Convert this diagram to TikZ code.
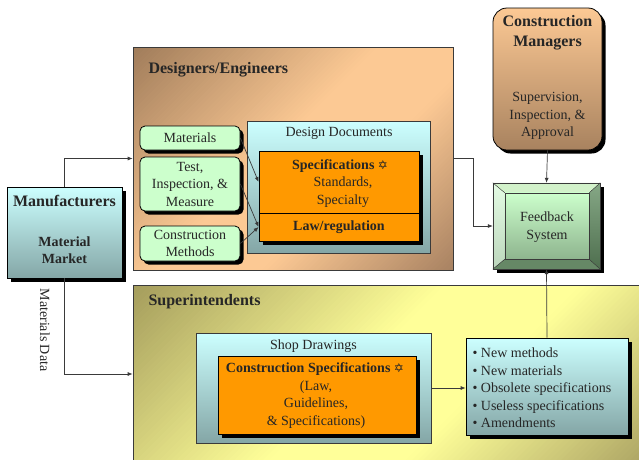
\documentclass[tikz,border=0pt]{standalone}
\usepackage{fontspec}
\setmainfont{Liberation Serif}
\newfontfamily\symfont{DejaVu Sans}
\usetikzlibrary{shadows,arrows.meta}

\definecolor{txt}{HTML}{262626}
\definecolor{edge}{HTML}{3A3A3A}
\definecolor{peach}{HTML}{FCC994}
\definecolor{brownA}{HTML}{A07C5A}
\definecolor{brownB}{HTML}{A88262}
\definecolor{brownCM}{HTML}{A8825F}
\definecolor{oliveA}{HTML}{A49C5C}
\definecolor{lightyellow}{HTML}{FFFF99}
\definecolor{oliveB}{HTML}{ACA464}
\definecolor{cyanTop}{HTML}{CCFFFF}
\definecolor{tealBot}{HTML}{84A6A6}
\definecolor{mint}{HTML}{CCFFCC}
\definecolor{specorange}{HTML}{FF9900}
\definecolor{bevelTop}{HTML}{D2F2CA}
\definecolor{bevelLeftA}{HTML}{E4FCE4}
\definecolor{bevelLeftB}{HTML}{BCD6BC}
\definecolor{bevelRightA}{HTML}{86A886}
\definecolor{bevelRightB}{HTML}{4E6E4E}
\definecolor{bevelBottom}{HTML}{668866}
\definecolor{faceTop}{HTML}{CCFFCC}
\definecolor{faceBot}{HTML}{8EB48E}

% Diagonal wash inside a rectangle: #5 in the top-left corner, #6 across the
% middle, #7 in the bottom-right corner, built from thin strips along x+y=const.
\newcommand\diagwash[7]{%
  \begin{scope}
    \clip (#1,#2) rectangle (#3,#4);
    \pgfmathsetmacro{\washlo}{#1+#2}
    \pgfmathsetmacro{\washstep}{(#3+#4-#1-#2)/120}
    \foreach \k in {0,...,119} {
      \pgfmathsetmacro{\washt}{(\k+0.5)/120}
      \pgfmathsetmacro{\washa}{max(0,1-\washt/0.45)*100}
      \pgfmathsetmacro{\washb}{max(0,(\washt-0.65)/0.35)*100}
      \colorlet{washc}{#5!\washa!#6}
      \colorlet{washc}{#7!\washb!washc}
      \pgfmathsetmacro{\washsa}{\washlo+\k*\washstep}
      \pgfmathsetmacro{\washsb}{\washsa+\washstep+0.8}
      \fill[washc] (\washsa-#2+5,#2-5) -- (\washsb-#2+5,#2-5)
        -- (\washsb-#4-5,#4+5) -- (\washsa-#4-5,#4+5) -- cycle;
    }
  \end{scope}}

\begin{document}
\begin{tikzpicture}[x=1pt,y=-1pt,
  every node/.style={text=txt, font=\fontsize{14}{17.5}\selectfont},
  shadowed/.style={drop shadow={shadow xshift=3.5pt,shadow yshift=-3.5pt,fill=black,opacity=1}},
  region/.style={draw=edge, line width=0.7pt, inner sep=0pt},
  tealbox/.style={draw=edge, line width=0.7pt, inner sep=0pt, top color=cyanTop, bottom color=tealBot},
  greenbox/.style={draw=black, line width=0.8pt, fill=mint, rounded corners=5pt, shadowed,
    align=center, inner sep=0pt, minimum width=100pt},
  orangebox/.style={draw=black, line width=0.8pt, fill=specorange, shadowed, inner sep=0pt,
    minimum width=160pt},
  heading/.style={font=\bfseries\fontsize{16}{20}\selectfont},
  strong/.style={font=\bfseries\fontsize{14}{17.5}\selectfont},
  flow/.style={draw=edge, line width=0.7pt, -{Latex[length=5pt,width=4pt]}},
  bevel/.style={draw=edge, line width=0.4pt},
]
\useasboundingbox (0,0) rectangle (639,459);
\fill[white] (0,0) rectangle (639,459);

% ---------- the two large regions
\diagwash{133}{47}{453}{270}{brownA}{peach}{brownB}
\node[region, minimum width=320pt, minimum height=223pt] (de) at (293,158.5) {};
\node[heading, anchor=west] (delabel) at (145,70) {Designers/Engineers};

\diagwash{133}{285}{645}{463}{oliveA}{lightyellow}{oliveB}
\node[region, minimum width=512pt, minimum height=178pt] (si) at (389,374) {};
\node[heading, anchor=west] (silabel) at (145,302) {Superintendents};

% ---------- manufacturers
\node[tealbox, draw=black, shadowed, minimum width=115pt, minimum height=91pt] (mf) at (64.5,232.5) {};
\node[heading] (mftitle) at (64.5,201) {Manufacturers};
\node[strong, align=center] (mfmarket) at (64.5,250) {Material\\Market};
\node[rotate=-90] (mdata) at (45,330) {Materials Data};

% ---------- inputs to the design documents
\node[greenbox, minimum height=24pt] (mat) at (190,138) {Materials};
\node[greenbox, minimum height=54pt] (test) at (190,184) {Test,\\Inspection, \&\\Measure};
\node[greenbox, minimum height=35pt] (cmeth) at (190,243.5) {Construction\\Methods};

% ---------- design documents
\node[tealbox, minimum width=183pt, minimum height=132pt] (dd) at (338.5,187) {};
\node (ddlabel) at (339,133) {Design Documents};
\node[orangebox, minimum height=62pt] (spec) at (339,182) {};
\node[orangebox, minimum height=28pt] (law) at (339,227) {};
\node[strong] (spectitle) at (340,166) {Specifications {\symfont\mdseries\fontsize{12}{14}\selectfont ✡}};
\node[align=center] (spectext) at (343,192) {Standards,\\Specialty};
\node[strong] (lawtitle) at (339,227) {Law/regulation};

% ---------- construction managers
\node[draw=black, line width=0.8pt, rounded corners=14pt, top color=peach, bottom color=brownCM,
  shadowed, minimum width=109pt, minimum height=142pt] (cmgr) at (547.5,79) {};
\node[heading, align=center] (cmtitle) at (547.5,33) {Construction\\Managers};
\node[align=center] (cmtext) at (547.5,116) {Supervision,\\Inspection, \&\\Approval};

% ---------- feedback system (bevelled block)
\node[fill=black, shadowed, minimum width=107pt, minimum height=86pt, inner sep=0pt] (fb) at (546.5,226) {};
\node[minimum width=84pt, minimum height=66pt, inner sep=0pt] (fbface) at (547,226) {};
\fill[bevelTop] (fb.north west) -- (fb.north east) -- (fbface.north east) -- (fbface.north west) -- cycle;
\shade[top color=bevelLeftA, bottom color=bevelLeftB] (fb.north west) -- (fbface.north west) -- (fbface.south west) -- (fb.south west) -- cycle;
\shade[top color=bevelRightA, bottom color=bevelRightB] (fb.north east) -- (fb.south east) -- (fbface.south east) -- (fbface.north east) -- cycle;
\fill[bevelBottom] (fb.south west) -- (fbface.south west) -- (fbface.south east) -- (fb.south east) -- cycle;
\shade[top color=faceTop, bottom color=faceBot] (fbface.north west) rectangle (fbface.south east);
\draw[bevel] (fb.north west) rectangle (fb.south east);
\draw[bevel] (fbface.north west) rectangle (fbface.south east);
\draw[bevel] (fb.north west) -- (fbface.north west) (fb.north east) -- (fbface.north east)
  (fb.south west) -- (fbface.south west) (fb.south east) -- (fbface.south east);
\node[align=center] (fbtext) at (547,227) {Feedback\\System};

% ---------- shop drawings
\node[tealbox, minimum width=235pt, minimum height=110pt] (shop) at (313.5,388) {};
\node (shoplabel) at (313.5,346) {Shop Drawings};
\node[orangebox, minimum width=198pt, minimum height=78pt] (cspec) at (317,395) {};
\node[strong] (cspectitle) at (315,369) {Construction Specifications {\symfont\mdseries\fontsize{12}{14}\selectfont ✡}};
\node[align=center] (cspectext) at (316,404.5) {(Law,\\Guidelines,\\\& Specifications)};

% ---------- outcomes
\node[tealbox, draw=black, shadowed, minimum width=162pt, minimum height=97pt] (bul) at (547,386.5) {};
\node[anchor=west, align=left] (bultext) at (469,388) {• New methods\\• New materials\\• Obsolete specifications\\• Useless specifications\\• Amendments};

% ---------- connectors
\coordinate (fbjoint) at (473,158.5);
\draw[flow] (mf.north) |- (de.west);
\draw[flow] (mf.south) |- (si.west);
\draw[flow] (mat.east) -- (spec.west);
\draw[flow] (test.east) -- (law.west);
\draw[flow] (cmeth.east) -- (law.west);
\draw[flow] (de.east) -- (fbjoint) |- (fb.west);
\draw[flow] (cmgr.south) -- (fb.north);
\draw[flow] (bul.north) -- (fb.south);
\draw[flow] (shop.east) -- (bul.west |- shop.east);
\end{tikzpicture}
\end{document}
